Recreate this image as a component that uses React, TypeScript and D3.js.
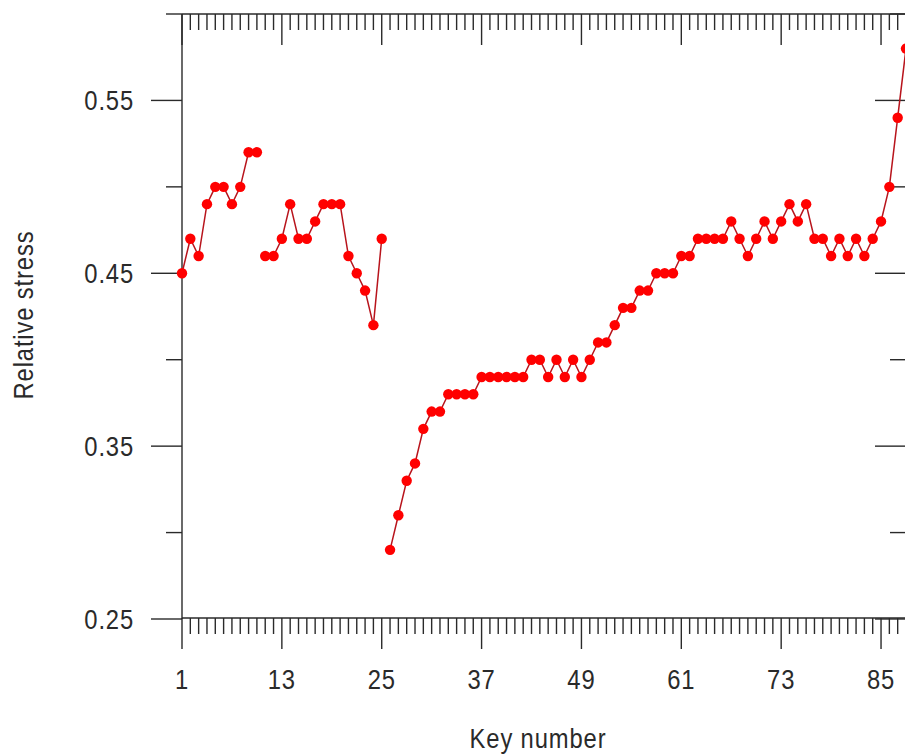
import React from 'react'
import * as d3 from 'd3'

// relative stress per piano key (keys 1..88)
const keys: number[] = d3.range(1, 89)
const stress: number[] = [
  0.45, 0.47, 0.46, 0.49, 0.50, 0.50, 0.49, 0.50, 0.52, 0.52,
  0.46, 0.46, 0.47, 0.49, 0.47, 0.47, 0.48, 0.49, 0.49, 0.49,
  0.46, 0.45, 0.44, 0.42, 0.47,
  0.29, 0.31, 0.33, 0.34, 0.36, 0.37, 0.37, 0.38, 0.38, 0.38,
  0.38, 0.39, 0.39, 0.39, 0.39, 0.39, 0.39, 0.40, 0.40, 0.39,
  0.40, 0.39, 0.40, 0.39, 0.40, 0.41, 0.41, 0.42, 0.43, 0.43,
  0.44, 0.44, 0.45, 0.45, 0.45, 0.46, 0.46, 0.47, 0.47, 0.47,
  0.47, 0.48, 0.47, 0.46, 0.47, 0.48, 0.47, 0.48, 0.49, 0.48,
  0.49, 0.47, 0.47, 0.46, 0.47, 0.46, 0.47, 0.46, 0.47, 0.48,
  0.50, 0.54, 0.58,
]
// the line restarts at these keys
const segmentStarts: number[] = [1, 11, 26]

const xMajorTicks: number[] = [1, 13, 25, 37, 49, 61, 73, 85]
const yMajorTicks: number[] = [0.25, 0.35, 0.45, 0.55]
const yMinorTicks: number[] = [0.3, 0.4, 0.5, 0.6]

const W = 905
const H = 756
const font = '"Liberation Sans", Arial, sans-serif'
const ink = '#2a2a2a'

export default function App() {
  const x = d3.scaleLinear().domain([1, 88]).range([182, 906])
  const y = d3.scaleLinear().domain([0.25, 0.6]).range([619, 14])

  const data = keys.map((k, i) => ({ key: k, value: stress[i] }))
  const segments = segmentStarts.map((s, i) => {
    const end = i + 1 < segmentStarts.length ? segmentStarts[i + 1] : 89
    return data.filter(d => d.key >= s && d.key < end)
  })

  const line = d3.line<{ key: number; value: number }>()
    .x(d => x(d.key))
    .y(d => y(d.value))

  const left = x(1)
  const right = x(88)
  const top = y(0.6)
  const bottom = y(0.25)
  const major = 31
  const minor = 16

  return (
    <svg width={W} height={H} style={{ position: 'fixed', left: 0, top: 0, background: '#fff' }}>
      {/* box lines */}
      <g stroke={ink} strokeWidth={1.4} fill="none">
        <line x1={left} x2={left} y1={top} y2={bottom} />
        <line x1={right} x2={right} y1={top} y2={bottom} />
        <line x1={left} x2={right} y1={top} y2={top} />
        <line x1={left} x2={right} y1={bottom - 1} y2={bottom - 1} />

        {/* x ticks, bottom and top, every key */}
        {keys.map(k => {
          const len = xMajorTicks.includes(k) ? major : minor
          return (
            <g key={'xt' + k}>
              <line x1={x(k)} x2={x(k)} y1={bottom - 1} y2={bottom - 1 + len} />
              <line x1={x(k)} x2={x(k)} y1={top} y2={top + len} />
            </g>
          )
        })}

        {/* y ticks, left and right */}
        {yMajorTicks.map(v => (
          <g key={'ym' + v}>
            <line x1={left - major} x2={left} y1={y(v)} y2={y(v)} />
            <line x1={right - major} x2={right} y1={y(v)} y2={y(v)} />
          </g>
        ))}
        {yMinorTicks.map(v => (
          <g key={'yn' + v}>
            <line x1={left - minor} x2={left} y1={y(v)} y2={y(v)} />
            <line x1={right - minor} x2={right} y1={y(v)} y2={y(v)} />
          </g>
        ))}
      </g>

      {/* tick labels */}
      <g fill={ink} fontFamily={font} fontSize={28} letterSpacing={1}>
        {yMajorTicks.map(v => (
          <text key={'yl' + v} textAnchor="end"
            transform={`translate(134,${y(v) + 9.5}) scale(0.85,1)`}>
            {v.toFixed(2)}
          </text>
        ))}
        {xMajorTicks.map(k => (
          <text key={'xl' + k} textAnchor="middle"
            transform={`translate(${x(k)},689) scale(0.85,1)`}>
            {k}
          </text>
        ))}
      </g>

      {/* axis titles */}
      <g fill={ink} fontFamily={font} fontSize={27} letterSpacing={1}>
        <text textAnchor="middle" transform="translate(538,748) scale(0.88,1)">Key number</text>
        <text textAnchor="middle" transform="translate(33,315) rotate(-90) scale(0.88,1)">Relative stress</text>
      </g>

      {/* series */}
      <g>
        {segments.map((seg, i) => (
          <path key={'seg' + i} d={line(seg) || ''} fill="none" stroke="#b8141c" strokeWidth={1.5} />
        ))}
        {data.map(d => (
          <circle key={'p' + d.key} cx={x(d.key)} cy={y(d.value)} r={5.2} fill="#ff0000" />
        ))}
      </g>
    </svg>
  )
}
